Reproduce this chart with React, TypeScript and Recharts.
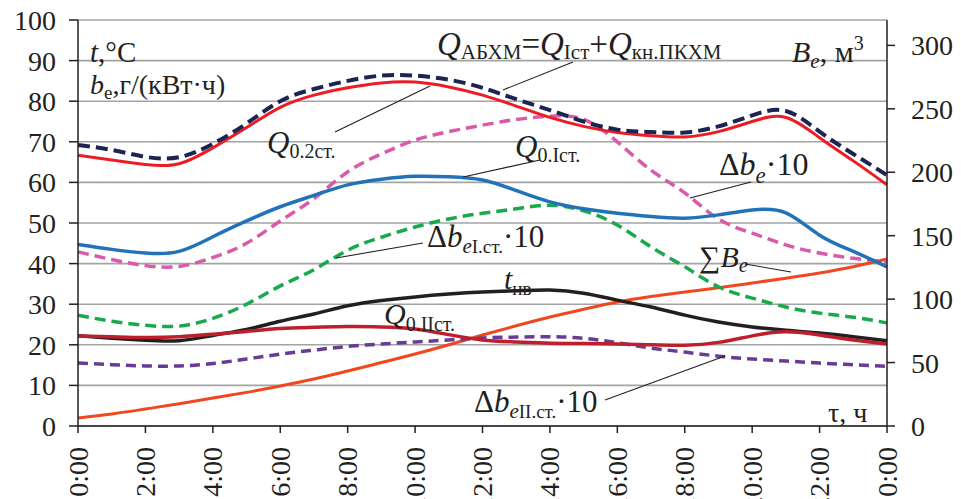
import { LineChart, Line, XAxis, YAxis, CartesianGrid } from "recharts";

// hours of the day (0..24)
const hours = [0, 1, 2, 3, 4, 5, 6, 7, 8, 9, 10, 11, 12, 13, 14, 15, 16, 17, 18, 19, 20, 21, 22, 23, 24];
const xTicks = [0, 2, 4, 6, 8, 10, 12, 14, 16, 18, 20, 22, 24];
const xTickLabels = ["0:00", "2:00", "4:00", "6:00", "8:00", "10:00", "12:00", "14:00", "16:00", "18:00", "20:00", "22:00", "0:00"];
const leftTicks = [0, 10, 20, 30, 40, 50, 60, 70, 80, 90, 100];
const rightTicks = [0, 50, 100, 150, 200, 250, 300];

// left axis series
const qAbhm = [69.2, 68, 66.3, 66.2, 69.5, 74.5, 80, 83, 85, 86.3, 86.3, 85.3, 83.3, 80.5, 77.8, 75, 73, 72.4, 72.3, 73.8, 76.5, 77.6, 72.5, 67, 61.8];
const q02 = [66.7, 65.5, 64.4, 64.6, 68.5, 73.5, 78.5, 81.5, 83.3, 84.5, 84.7, 83.5, 81.5, 78.8, 76, 73.8, 72.3, 71.5, 71.2, 72.5, 75, 76, 71, 65.3, 59.4];
const q0I = [44.7, 43.5, 42.6, 43, 46.6, 50.5, 54, 56.8, 59.4, 60.8, 61.5, 61.4, 60.6, 58, 55.2, 53.5, 52.4, 51.6, 51.2, 52, 53.2, 52.5, 47, 43, 39.2];
const dBe = [42.9, 41, 39.5, 39.3, 41.5, 45, 50.5, 56, 62.6, 67, 70.4, 72.5, 74.1, 75.5, 76.3, 75.5, 70, 63, 57.4, 51, 47.5, 44.6, 42.6, 41.3, 40.4];
const dBeI = [27.3, 25.8, 24.8, 24.6, 26.5, 30, 34.5, 38.5, 43.3, 46.5, 49, 51, 52.4, 53.5, 54.4, 53, 49.5, 44.1, 39.2, 34.3, 31.5, 29.3, 27.8, 26.8, 25.4];
const tNv = [22.2, 21.6, 21.1, 21, 22.3, 23.8, 25.8, 27.6, 29.6, 30.9, 31.8, 32.5, 33, 33.3, 33.5, 32.7, 31, 29.3, 27.3, 25.6, 24.4, 23.6, 22.9, 22, 21];
const q0II = [22.2, 22, 21.8, 22, 22.6, 23.3, 24, 24.3, 24.5, 24.4, 23.9, 22.5, 21.2, 20.7, 20.4, 20.3, 20.2, 20, 19.9, 20.6, 22.2, 23.2, 22.4, 21.2, 20.2];
const dBeII = [15.5, 15.1, 14.8, 14.8, 15.4, 16.5, 17.7, 18.7, 19.6, 20.2, 20.7, 21.2, 21.7, 21.9, 22, 21.6, 20.5, 19.2, 18.2, 17.2, 16.5, 16, 15.5, 15.1, 14.7];
// right axis series
const sumB = [6.3, 9.5, 13.4, 17.5, 22, 26.5, 31.5, 37, 43.3, 50, 56.7, 64, 71.7, 79, 85.9, 92, 97.7, 102, 105.6, 109, 112.7, 116.5, 120.6, 125.5, 131.6];

const data = hours.map((h, i) => ({
  h,
  qAbhm: qAbhm[i],
  q02: q02[i],
  q0I: q0I[i],
  dBe: dBe[i],
  dBeI: dBeI[i],
  tNv: tNv[i],
  q0II: q0II[i],
  dBeII: dBeII[i],
  sumB: sumB[i],
}));

const serif = "'Liberation Serif', 'Times New Roman', serif";
const ink = "#231f20";
const tickStyle = { fontFamily: serif, fontSize: 28, fill: ink };

const XTick = (props: any) => {
  const { x, y, payload } = props;
  const idx = xTicks.indexOf(payload.value);
  return (
    <text
      x={x}
      y={y}
      transform={`rotate(-90 ${x} ${y})`}
      textAnchor="end"
      dy="0.34em"
      fontFamily={serif}
      fontSize={28}
      fill={ink}
    >
      {xTickLabels[idx]}
    </text>
  );
};

const Annotations = () => (
  <svg
    width={961}
    height={499}
    style={{ position: "absolute", left: 0, top: 0, pointerEvents: "none" }}
    fontFamily={serif}
    fill={ink}
  >
    <g stroke={ink} strokeWidth={1.1}>
      <line x1={503} y1={90} x2={573} y2={62} />
      <line x1={335} y1={132} x2={430} y2={86} />
      <line x1={463} y1={177} x2={540} y2={160} />
      <line x1={690} y1={198} x2={751} y2={182} />
      <line x1={336} y1={258} x2={423} y2={243} />
      <line x1={605} y1={400} x2={725} y2={356} />
      <line x1={745} y1={264} x2={791} y2={272} />
    </g>
    <text x={90} y={62} fontSize={29}>
      <tspan fontStyle="italic">t</tspan>,°C
    </text>
    <text x={90} y={94} fontSize={28}>
      <tspan fontStyle="italic">b</tspan>
      <tspan fontSize={19} dy={5}>e</tspan>
      <tspan dy={-5}>,г/(кВт·ч)</tspan>
    </text>
    <text x={437} y={55} fontSize={33}>
      <tspan fontStyle="italic">Q</tspan>
      <tspan fontSize={21} dy={4}>АБХМ</tspan>
      <tspan dy={-4}>=</tspan>
      <tspan fontStyle="italic">Q</tspan>
      <tspan fontSize={21} dy={4}>Iст</tspan>
      <tspan dy={-4}>+</tspan>
      <tspan fontStyle="italic">Q</tspan>
      <tspan fontSize={21} dy={4}>кн.ПКХМ</tspan>
    </text>
    <text x={792} y={62} fontSize={30}>
      <tspan fontStyle="italic">B</tspan>
      <tspan fontSize={21} fontStyle="italic" dy={6}>e</tspan>
      <tspan dy={-6}>, м</tspan>
      <tspan fontSize={20} dy={-12}>3</tspan>
    </text>
    <text x={267} y={153} fontSize={31}>
      <tspan fontStyle="italic">Q</tspan>
      <tspan fontSize={20} dy={5}>0.2ст.</tspan>
    </text>
    <text x={515} y={157} fontSize={31}>
      <tspan fontStyle="italic">Q</tspan>
      <tspan fontSize={20} dy={5}>0.Iст.</tspan>
    </text>
    <text x={719} y={175} fontSize={32}>
      Δ<tspan fontStyle="italic">b</tspan>
      <tspan fontSize={23} fontStyle="italic" dy={8}>e</tspan>
      <tspan dy={-8}>·10</tspan>
    </text>
    <text x={427} y={247} fontSize={31}>
      Δ<tspan fontStyle="italic">b</tspan>
      <tspan fontSize={21} fontStyle="italic" dy={6}>e</tspan>
      <tspan fontSize={19}>I.ст.</tspan>
      <tspan dy={-6}>·10</tspan>
    </text>
    <text x={504} y={289} fontSize={30}>
      <tspan fontStyle="italic">t</tspan>
      <tspan fontSize={19} dy={6}>нв</tspan>
    </text>
    <text x={384} y={324} fontSize={30}>
      <tspan fontStyle="italic">Q</tspan>
      <tspan fontSize={20} dy={7}>0.IIст.</tspan>
    </text>
    <text x={474} y={412} fontSize={31}>
      Δ<tspan fontStyle="italic">b</tspan>
      <tspan fontSize={21} fontStyle="italic" dy={6}>e</tspan>
      <tspan fontSize={19}>II.ст.</tspan>
      <tspan dy={-6}>·10</tspan>
    </text>
    <text x={699} y={267} fontSize={30}>
      ∑<tspan fontStyle="italic">B</tspan>
      <tspan fontSize={21} fontStyle="italic" dy={5}>e</tspan>
    </text>
    <text x={828} y={422} fontSize={28}>
      τ, ч
    </text>
  </svg>
);

export default function App() {
  return (
    <div style={{ position: "relative", width: 961, height: 499, background: "#fff" }}>
      <style>{`body{margin:0}`}</style>
      <LineChart
        width={961}
        height={499}
        data={data}
        margin={{ top: 20, right: 0, bottom: 0, left: 0 }}
      >
        <CartesianGrid yAxisId="left" vertical={false} stroke="#a3a3a3" strokeWidth={1.6} />
        <XAxis
          dataKey="h"
          type="number"
          domain={[0, 24]}
          ticks={xTicks}
          height={73}
          interval={0}
          tick={<XTick />}
          tickSize={7}
          tickMargin={14}
          stroke={ink}
          strokeWidth={1.5}
        />
        <YAxis
          yAxisId="left"
          domain={[0, 100]}
          ticks={leftTicks}
          width={78}
          interval={0}
          tick={tickStyle}
          tickSize={9}
          tickMargin={13}
          stroke={ink}
          strokeWidth={1.5}
        />
        <YAxis
          yAxisId="right"
          orientation="right"
          domain={[0, 320]}
          ticks={rightTicks}
          width={74}
          interval={0}
          tick={tickStyle}
          tickSize={8}
          tickMargin={16}
          stroke={ink}
          strokeWidth={1.5}
        />
        <Line yAxisId="right" dataKey="sumB" type="natural" stroke="#f1471f" strokeWidth={3} dot={false} isAnimationActive={false} />
        <Line yAxisId="left" dataKey="dBeII" type="natural" stroke="#6a3a97" strokeWidth={3.5} strokeDasharray="10 6" dot={false} isAnimationActive={false} />
        <Line yAxisId="left" dataKey="tNv" type="natural" stroke={ink} strokeWidth={3.5} dot={false} isAnimationActive={false} />
        <Line yAxisId="left" dataKey="q0II" type="natural" stroke="#bd1f2d" strokeWidth={3.5} dot={false} isAnimationActive={false} />
        <Line yAxisId="left" dataKey="dBeI" type="natural" stroke="#17a94b" strokeWidth={3.5} strokeDasharray="11 6" dot={false} isAnimationActive={false} />
        <Line yAxisId="left" dataKey="dBe" type="natural" stroke="#d95aa8" strokeWidth={3.5} strokeDasharray="11 6" dot={false} isAnimationActive={false} />
        <Line yAxisId="left" dataKey="q0I" type="natural" stroke="#2272b9" strokeWidth={3.5} dot={false} isAnimationActive={false} />
        <Line yAxisId="left" dataKey="q02" type="natural" stroke="#ed1c24" strokeWidth={3} dot={false} isAnimationActive={false} />
        <Line yAxisId="left" dataKey="qAbhm" type="natural" stroke="#1c2452" strokeWidth={4} strokeDasharray="12 6" dot={false} isAnimationActive={false} />
      </LineChart>
      <Annotations />
    </div>
  );
}
